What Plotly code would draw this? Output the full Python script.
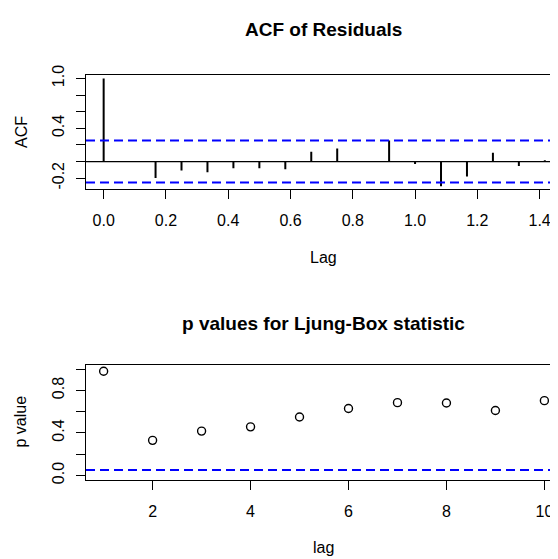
import plotly.graph_objects as go

# ---- data ----
acf_lags = [k / 12 for k in range(0, 18)]
acf_values = [1.0, 0.0, -0.199, -0.109, -0.129, -0.082, -0.082, -0.094, 0.117, 0.156,
              0.0, 0.254, -0.031, -0.297, -0.18, 0.105, -0.055, 0.016]
acf_ci = 0.252

lb_lags = [1, 2, 3, 4, 5, 6, 7, 8, 9, 10]
lb_pvalues = [0.981, 0.33, 0.417, 0.457, 0.55, 0.63, 0.685, 0.682, 0.611, 0.704]
lb_sig = 0.05

acf_xticks = [0.0, 0.2, 0.4, 0.6, 0.8, 1.0, 1.2, 1.4]
acf_yticks = [-0.2, 0.0, 0.2, 0.4, 0.6, 0.8, 1.0]
acf_ylabels = ["-0.2", "", "", "0.4", "", "", "1.0"]
lb_xticks = [2, 4, 6, 8, 10]
lb_yticks = [0.0, 0.2, 0.4, 0.6, 0.8, 1.0]
lb_ylabels = ["0.0", "", "0.4", "", "0.8", ""]

# the page body adds an 8px margin; compensate so the figure lines up with the viewport
OFF = 8
W, H = 558 - OFF, 559 - OFF
LEFT = 86 - OFF
FONT = "Liberation Sans, Arial, sans-serif"

fig = go.Figure()

# stems for ACF
sx, sy = [], []
for l, v in zip(acf_lags, acf_values):
    sx += [l, l, None]
    sy += [0, v, None]
fig.add_trace(go.Scatter(x=sx, y=sy, mode="lines", line=dict(color="black", width=2),
                         xaxis="x", yaxis="y", hoverinfo="skip"))

top_xr = [-0.0567, 1.459]
bot_xr = [0.64, 10.278]

# zero line and CI lines
fig.add_trace(go.Scatter(x=top_xr, y=[0, 0], mode="lines", line=dict(color="black", width=1.3),
                         xaxis="x", yaxis="y"))
for c in (acf_ci, -acf_ci):
    fig.add_trace(go.Scatter(x=top_xr, y=[c, c], mode="lines",
                             line=dict(color="#0000ff", width=2, dash="9px,5px"),
                             xaxis="x", yaxis="y"))

# Ljung-Box p values
fig.add_trace(go.Scatter(x=lb_lags, y=lb_pvalues, mode="markers",
                         marker=dict(symbol="circle-open", size=8, color="black",
                                     line=dict(width=1.4, color="black")),
                         xaxis="x2", yaxis="y2"))
fig.add_trace(go.Scatter(x=bot_xr, y=[lb_sig, lb_sig], mode="lines",
                         line=dict(color="#0000ff", width=2, dash="9px,5px"),
                         xaxis="x2", yaxis="y2"))

def yd(top_px, bot_px):
    return [1 - (bot_px - OFF) / H, 1 - (top_px - OFF) / H]

axis_common = dict(showgrid=False, zeroline=False, showline=True, linecolor="black",
                   linewidth=1.3, ticks="outside", ticklen=9, tickwidth=1.3,
                   tickcolor="black", tickfont=dict(family=FONT, size=16, color="black"))

fig.update_layout(
    width=W, height=H, margin=dict(l=LEFT, r=0, t=0, b=0),
    paper_bgcolor="white", plot_bgcolor="white", showlegend=False,
    xaxis=dict(domain=[0, 1], range=top_xr, anchor="y", tickvals=acf_xticks,
               tickformat=".1f", mirror=True, ticklabelstandoff=8, **axis_common),
    yaxis=dict(domain=yd(66, 183), range=[-0.325, 1.047], anchor="x", tickvals=acf_yticks,
               ticktext=acf_ylabels, tickangle=-90, mirror=False, ticklabelstandoff=5,
               **axis_common),
    xaxis2=dict(domain=[0, 1], range=bot_xr, anchor="y2", tickvals=lb_xticks,
                mirror=True, ticklabelstandoff=8, **axis_common),
    yaxis2=dict(domain=yd(364, 481.7), range=[-0.04, 1.04], anchor="x2", tickvals=lb_yticks,
                ticktext=lb_ylabels, tickangle=-90, mirror=False, ticklabelstandoff=5,
                **axis_common),
)

def px2x(px):
    return (px - 86) / (W - LEFT)

def py2y(py):
    return 1 - (py - OFF) / H

ann = [
    ("ACF of Residuals", 323, 20, 19, True, 0),
    ("p values for Ljung-Box statistic", 323, 321, 19, True, 0),
    ("Lag", 323, 254, 16, False, 0),
    ("lag", 323, 551, 16, False, 0),
    ("ACF", 21, 125, 16, False, -90),
    ("p value", 20, 422, 16, False, -90),
]
for text, x, y, size, bold, ang in ann:
    fig.add_annotation(text=text, xref="paper", yref="paper", x=px2x(x), y=py2y(y),
                       xanchor="center", yanchor="middle", showarrow=False, textangle=ang,
                       font=dict(family=FONT, size=size, color="black",
                                 weight="bold" if bold else "normal"))

fig.write_html("out.html")
